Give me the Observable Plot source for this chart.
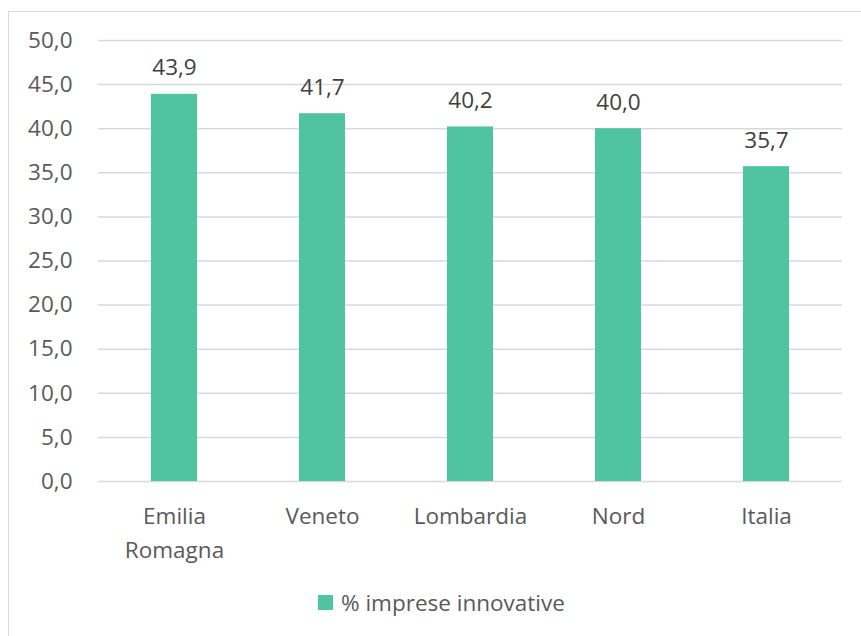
<!DOCTYPE html>
<html>
<head>
<meta charset="utf-8">
<script src="https://cdn.jsdelivr.net/npm/d3@7"></script>
<script src="https://cdn.jsdelivr.net/npm/@observablehq/plot@0.6"></script>
<style>
  html, body { margin: 0; padding: 0; background: #fff; }
  #wrap { position: relative; width: 861px; height: 636px; overflow: hidden; font-family: "Open Sans", sans-serif; }
  #frame { position: absolute; left: 8px; top: 11px; width: 900px; height: 700px; border: 1px solid #d9d9d9; box-sizing: border-box; }
  #chart { position: absolute; left: 0; top: 0; }
  #legend { position: absolute; left: 318px; top: 587px; display: flex; align-items: center; font-size: 22.5px; color: #595959; white-space: nowrap; }
  #legend .sw { width: 15px; height: 15px; margin-right: 8px; }
</style>
</head>
<body>
<div id="wrap">
  <div id="frame"></div>
  <div id="chart"></div>
  <div id="legend"></div>
</div>
<script>
const categories = ["Emilia\nRomagna", "Veneto", "Lombardia", "Nord", "Italia"];
const values = [43.9, 41.7, 40.2, 40.0, 35.7];
const yTicks = [0, 5, 10, 15, 20, 25, 30, 35, 40, 45, 50];
const seriesName = "% imprese innovative";
const barColor = "#50C49F";

const fmt = d => d.toFixed(1).replace(".", ",");
const data = categories.map((c, i) => ({category: c, value: values[i]}));

const chart = Plot.plot({
  width: 861,
  height: 580,
  marginLeft: 98,
  marginRight: 19,
  marginTop: 40,
  marginBottom: 99,
  style: {fontFamily: "Open Sans, sans-serif", fontSize: "22.5px", color: "#595959", background: "transparent", overflow: "visible"},
  x: {domain: categories, paddingInner: 0.69, paddingOuter: 0.345, label: null},
  y: {domain: [0, 50], label: null},
  marks: [
    Plot.ruleY(yTicks, {stroke: "#d9d9d9", strokeWidth: 1.5}),
    Plot.axisY({ticks: yTicks, tickSize: 0, tickPadding: 26, tickFormat: fmt, label: null, fill: "#595959"}),
    Plot.axisX({tickSize: 0, tickPadding: 19, lineHeight: 1.5, label: null, fill: "#595959"}),
    Plot.barY(data, {x: "category", y: "value", fill: barColor}),
    Plot.text(data, {x: "category", y: "value", text: d => fmt(d.value), lineAnchor: "bottom", dy: -19, fill: "#404040", fontSize: 22.5})
  ]
});
document.getElementById("chart").appendChild(chart);

const legend = document.getElementById("legend");
const sw = document.createElement("span");
sw.className = "sw";
sw.style.background = barColor;
legend.appendChild(sw);
const lt = document.createElement("span");
lt.textContent = seriesName;
legend.appendChild(lt);
</script>
</body>
</html>
